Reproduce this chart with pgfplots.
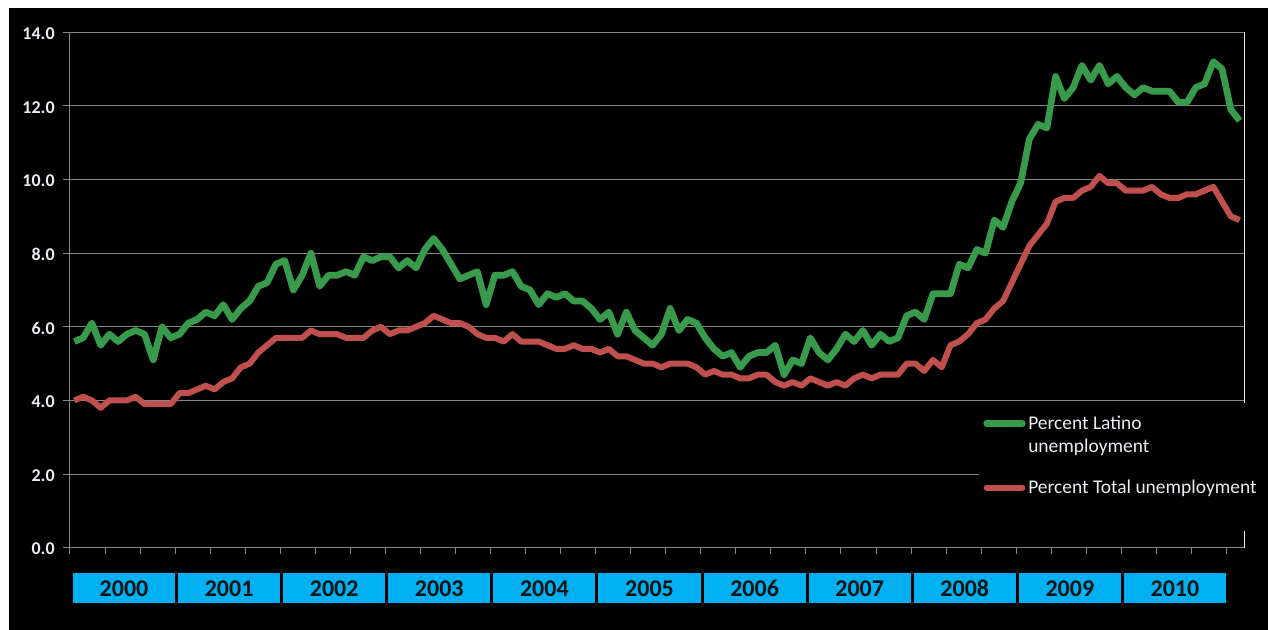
\documentclass[border=0pt]{standalone}
\usepackage{pgfplots}
\pgfplotsset{compat=1.18}
\usepackage{pgfplotstable}
\usepackage{fontspec}
\setmainfont{Carlito}
\definecolor{latgreen}{RGB}{56,155,76}
\definecolor{totred}{RGB}{192,80,77}
\definecolor{gridgray}{RGB}{134,134,134}
\definecolor{yearcyan}{RGB}{0,176,240}
\definecolor{labwhite}{RGB}{236,236,244}
\pgfplotstableread{
lat tot
5.6 4.0
5.7 4.1
6.1 4.0
5.5 3.8
5.8 4.0
5.6 4.0
5.8 4.0
5.9 4.1
5.8 3.9
5.1 3.9
6.0 3.9
5.7 3.9
5.8 4.2
6.1 4.2
6.2 4.3
6.4 4.4
6.3 4.3
6.6 4.5
6.2 4.6
6.5 4.9
6.7 5.0
7.1 5.3
7.2 5.5
7.7 5.7
7.8 5.7
7.0 5.7
7.4 5.7
8.0 5.9
7.1 5.8
7.4 5.8
7.4 5.8
7.5 5.7
7.4 5.7
7.9 5.7
7.8 5.9
7.9 6.0
7.9 5.8
7.6 5.9
7.8 5.9
7.6 6.0
8.1 6.1
8.4 6.3
8.1 6.2
7.7 6.1
7.3 6.1
7.4 6.0
7.5 5.8
6.6 5.7
7.4 5.7
7.4 5.6
7.5 5.8
7.1 5.6
7.0 5.6
6.6 5.6
6.9 5.5
6.8 5.4
6.9 5.4
6.7 5.5
6.7 5.4
6.5 5.4
6.2 5.3
6.4 5.4
5.8 5.2
6.4 5.2
5.9 5.1
5.7 5.0
5.5 5.0
5.8 4.9
6.5 5.0
5.9 5.0
6.2 5.0
6.1 4.9
5.7 4.7
5.4 4.8
5.2 4.7
5.3 4.7
4.9 4.6
5.2 4.6
5.3 4.7
5.3 4.7
5.5 4.5
4.7 4.4
5.1 4.5
5.0 4.4
5.7 4.6
5.3 4.5
5.1 4.4
5.4 4.5
5.8 4.4
5.6 4.6
5.9 4.7
5.5 4.6
5.8 4.7
5.6 4.7
5.7 4.7
6.3 5.0
6.4 5.0
6.2 4.8
6.9 5.1
6.9 4.9
6.9 5.5
7.7 5.6
7.6 5.8
8.1 6.1
8.0 6.2
8.9 6.5
8.7 6.7
9.4 7.2
9.9 7.7
11.1 8.2
11.5 8.5
11.4 8.8
12.8 9.4
12.2 9.5
12.5 9.5
13.1 9.7
12.7 9.8
13.1 10.1
12.6 9.9
12.8 9.9
12.5 9.7
12.3 9.7
12.5 9.7
12.4 9.8
12.4 9.6
12.4 9.5
12.1 9.5
12.1 9.6
12.5 9.6
12.6 9.7
13.2 9.8
13.0 9.4
11.9 9.0
11.6 8.9
}\data
\begin{document}
\begin{tikzpicture}
\begin{scope}[x=0.75pt,y=0.75pt]
\fill[white] (0,0) rectangle (1268,630);
\fill[black] (9,0) rectangle (1268,622);
\end{scope}
\begin{axis}[
  at={(52.5pt,61.725pt)}, anchor=south west,
  scale only axis, width=880.5pt, height=386.55pt,
  xmin=-0.5, xmax=133.5, ymin=0, ymax=14,
  axis lines*=left,
  axis line style={draw=gridgray, line width=0.75pt},
  tick align=outside, major tick length=5pt,
  tick style={draw=gridgray, line width=0.75pt},
  xtick={-0.5,3.5,...,131.5}, xticklabels={},
  ytick={0,2,...,14},
  ymajorgrids, grid style={draw=gridgray, line width=0.75pt},
  yticklabel style={font=\bfseries\fontsize{13.5}{16}\selectfont, text=labwhite, xshift=-3pt, yshift=-1pt},
  /pgf/number format/assume math mode=true,
  /pgf/number format/.cd, fixed, fixed zerofill, precision=1, /pgfplots/.cd,
  clip=false,
]
\draw[draw=white!85!gray, line width=0.75pt] (axis cs:133.5,0) -- (axis cs:133.5,14);
\addplot[draw=totred, line width=4.5pt, line join=round] table[x expr=\coordindex, y=tot] {\data};
\addplot[draw=latgreen, line width=5pt, line join=round] table[x expr=\coordindex, y=lat] {\data};
\end{axis}
\begin{scope}[x=0.75pt,y=0.75pt]
% legend
\fill[black] (979,227) rectangle (1266,99);
\draw[latgreen, line width=5pt, line cap=round] (986.6,206.3) -- (1022.4,206.3);
\draw[totred, line width=4.5pt, line cap=round] (986.6,142.3) -- (1022.4,142.3);
\node[anchor=base west, inner sep=0pt, text=labwhite, font=\fontsize{14.6}{17}\selectfont] at (1028,200.7) {Percent Latino};
\node[anchor=base west, inner sep=0pt, text=labwhite, font=\fontsize{14.6}{17}\selectfont] at (1028,177.3) {unemployment};
\node[anchor=base west, inner sep=0pt, text=labwhite, font=\fontsize{14.6}{17}\selectfont] at (1028,136.7) {Percent Total unemployment};
% year boxes
\foreach \k in {0,...,10} {
  \pgfmathsetmacro{\xl}{70+\k*105.09+3}
  \pgfmathsetmacro{\xr}{70+(\k+1)*105.09}
  \pgfmathtruncatemacro{\yr}{2000+\k}
  \fill[yearcyan] (\xl,26.7) rectangle (\xr,56.7);
  \node[anchor=base, inner sep=0pt, text=black!92, font=\bfseries\fontsize{18}{21}\selectfont] at ({(\xl+\xr)/2},33) {\yr};
}
\end{scope}
\end{tikzpicture}
\end{document}
